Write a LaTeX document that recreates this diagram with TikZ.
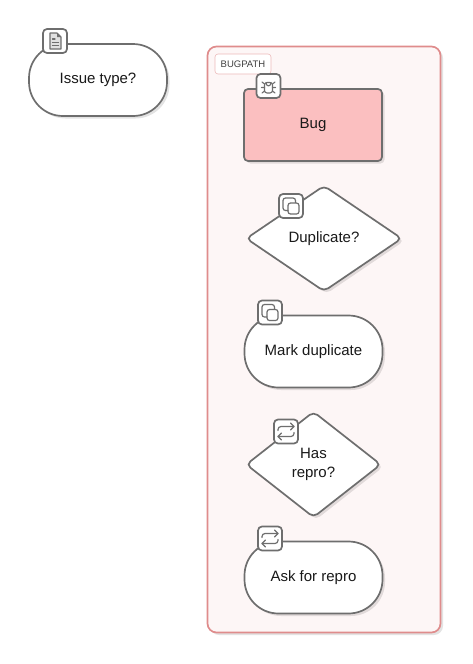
\documentclass[tikz,border=0pt]{standalone}
\usepackage{fontspec}
\setmainfont{Liberation Sans}
\usetikzlibrary{shapes.geometric, shadows}

\definecolor{strokegray}{HTML}{6E6E6E}
\definecolor{bugred}{HTML}{FBBFC0}
\definecolor{pathfill}{HTML}{FDF6F6}
\definecolor{pathline}{HTML}{DF8C8C}

\tikzset{
	softshadow/.style={drop shadow={shadow xshift=2.5pt, shadow yshift=-2.5pt, fill=black, opacity=0.11}},
	flow/.style={draw=strokegray, line width=1.7pt, fill=white, inner sep=0pt, align=center, softshadow,
		font=\fontsize{15}{19}\selectfont, text=black!90},
	pill/.style={flow, rectangle, rounded corners=34pt, minimum width=138pt, minimum height=72pt},
	task/.style={flow, rectangle, rounded corners=4pt, minimum width=138pt, minimum height=72pt, fill=bugred},
	choice/.style={flow, diamond, rounded corners=5pt},
	badge/.style={draw=strokegray, line width=1.7pt, fill=white, rectangle, rounded corners=4pt,
		minimum size=24pt, inner sep=0pt},
	icon/.style={draw=strokegray, line width=1.1pt, line cap=round, line join=round},
	iconfile/.pic={
		\draw[icon, fill=black!12] (-5,-8) -- (2,-8) -- (6,-4) -- (6,8) -- (-5,8) -- cycle;
		\fill[strokegray] (2,-8) -- (6,-4) -- (2,-4) -- cycle;
		\draw[icon] (-2.5,-2) -- (0,-2) (-2.5,1.5) -- (3.5,1.5) (-2.5,4.5) -- (3.5,4.5);
	},
	iconbug/.pic={
		\draw[icon, rounded corners=2.5pt] (-4,-3.5) rectangle (4,7);
		\draw[icon] (-2.5,-3.5) arc (180:0:2.5 and 3.5);
		\draw[icon] (-4,-2) -- (-6.5,-4) (4,-2) -- (6.5,-4)
			(-4,1.5) -- (-7,1.5) (4,1.5) -- (7,1.5)
			(-4,5) -- (-6.5,7) (4,5) -- (6.5,7);
	},
	iconcopy/.pic={
		\draw[icon, line width=1.2pt, rounded corners=2.5pt] (-3,4.5) -- (-8,4.5) -- (-8,-8) -- (4.5,-8) -- (4.5,-3.5);
		\draw[icon, line width=1.2pt, rounded corners=2.5pt] (-3,-3) rectangle (8,8);
	},
	iconloop/.pic={
		\draw[icon, line width=1.2pt, rounded corners=3pt] (-8,-1) -- (-8,-5) -- (8,-5);
		\draw[icon, line width=1.2pt] (4.5,-8.5) -- (8,-5) -- (4.5,-1.5);
		\draw[icon, line width=1.2pt, rounded corners=3pt] (8,1) -- (8,5) -- (-8,5);
		\draw[icon, line width=1.2pt] (-4.5,1.5) -- (-8,5) -- (-4.5,8.5);
	},
}

\begin{document}
\begin{tikzpicture}[x=1pt, y=-1pt]
  \useasboundingbox (0,0) rectangle (472,664);
  % group
  \node (bugpath) [draw=pathline, line width=1.7pt, fill=pathfill, rectangle, rounded corners=9pt,
    minimum width=233pt, minimum height=586pt, softshadow] at (324,339.5) {};
  \node (bugpath_label) [draw=pathline!60, line width=0.6pt, fill=white, rectangle, rounded corners=3pt,
    minimum width=56pt, minimum height=20pt, inner sep=0pt, text=black!75,
    font=\fontsize{9.5}{11}\selectfont] at (243,64) {BUGPATH};
  % steps
  \node (issue) [pill] at (98,80) {Issue type?};
  \node (bug) [task] at (313,125) {Bug};
  \node (duplicate) [choice, minimum width=156pt, minimum height=106pt, aspect=1.47] at (324,238.5) {Duplicate?};
  \node (mark) [pill] at (313.5,351.5) {Mark duplicate};
  \node (repro) [choice, minimum width=135pt, minimum height=106pt, aspect=1.27] at (313.5,464.5) {Has\\repro?};
  \node (ask) [pill] at (313.5,577.5) {Ask for repro};
  % badges
  \node (issue_badge) [badge] at (55,41) {};
  \node (bug_badge) [badge] at (268.5,86) {};
  \node (duplicate_badge) [badge] at (291,206) {};
  \node (mark_badge) [badge] at (270,312.5) {};
  \node (repro_badge) [badge] at (286,431.5) {};
  \node (ask_badge) [badge] at (270,538.5) {};
  \pic at (issue_badge) {iconfile};
  \pic at (bug_badge) {iconbug};
  \pic at (duplicate_badge) {iconcopy};
  \pic at (mark_badge) {iconcopy};
  \pic at (repro_badge) {iconloop};
  \pic at (ask_badge) {iconloop};
\end{tikzpicture}
\end{document}
